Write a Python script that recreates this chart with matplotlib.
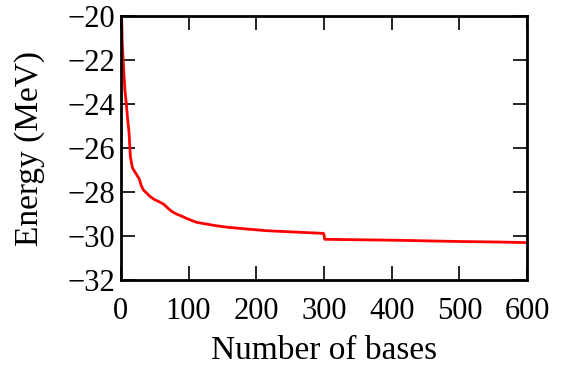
import matplotlib
matplotlib.use("Agg")
import matplotlib.pyplot as plt

n_bases = [1, 2, 4, 6, 8, 10, 12, 14, 17, 22, 27, 30, 33, 38, 43, 50, 57, 63, 70, 76, 82, 90, 97, 105, 112, 125, 140, 157, 185, 216, 250, 299, 300, 301, 350, 400, 450, 500, 550, 600]
energy = [-20.0, -21.2, -22.4, -23.4, -24.0, -24.7, -25.3, -26.4, -26.9, -27.15, -27.4, -27.7, -27.9, -28.05, -28.2, -28.35, -28.45, -28.55, -28.75, -28.9, -29.0, -29.1, -29.2, -29.3, -29.38, -29.45, -29.53, -29.6, -29.68, -29.76, -29.81, -29.88, -29.95, -30.15, -30.17, -30.19, -30.22, -30.25, -30.27, -30.3]

plt.rcParams['font.family'] = ['Liberation Serif', 'DejaVu Serif']

fig = plt.figure(figsize=(5.73, 3.66), dpi=100)
ax = fig.add_axes([0.211, 0.235, 0.709, 0.721])
ax.plot(n_bases, energy, color='red', lw=2)
ax.set_xlim(0, 600)
ax.set_ylim(-32, -20)
ax.set_xticks([0, 100, 200, 300, 400, 500, 600])
ax.set_yticks([-32, -30, -28, -26, -24, -22, -20])
ax.set_xlabel('Number of bases', fontsize=24, labelpad=7)
ax.set_ylabel('Energy (MeV)', fontsize=24, labelpad=16)
ax.tick_params(direction='in', length=10, width=1.2, labelsize=22, top=True, right=True)
ax.tick_params(axis='x', pad=12)
ax.tick_params(axis='y', pad=4)
for s in ax.spines.values():
    s.set_linewidth(2)
fig.savefig('out.png', dpi=100)
